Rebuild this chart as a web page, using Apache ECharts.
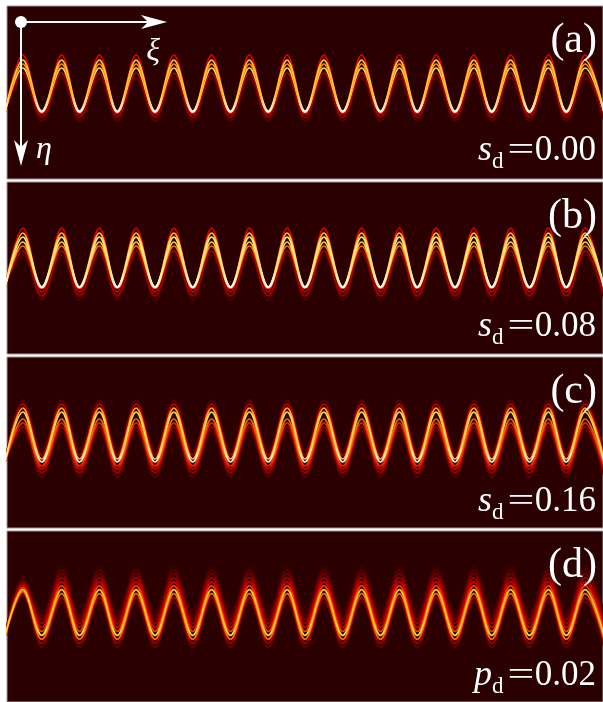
<!DOCTYPE html>
<html><head><meta charset="utf-8">
<script src="https://cdn.jsdelivr.net/npm/echarts@6/dist/echarts.min.js"></script>
<style>html,body{margin:0;padding:0;background:#fff}#c{width:603px;height:702px}</style>
</head><body><div id="c"></div>
<script>
// ξ positions (px units from the panel's left edge) of the start, then alternating peak / trough
const extremaXi = [-2, 16, 35, 55, 73, 93, 111, 130, 149, 168, 187, 206, 225, 244, 263, 282, 300,
                   319, 338, 357, 376, 395, 413, 432, 451, 470, 488, 507, 526, 545, 563, 582, 601];

// η (px units from panel top, downward) of each stacked beam copy, drawn dim -> bright
const startEta_a = 106;
const peakEta_a   = [72, 67, 49, 62, 58, 54];
const troughEta_a = [115, 111, 108, 106, 106, 105];

const startEta_b = 105;
const peakEta_b   = [73, 69, 46, 64, 51, 60, 55];
const troughEta_b = [118, 114, 110, 106, 105, 105, 105];

const startEta_c = 105;
const peakEta_c   = [43, 74, 70, 47, 66, 62, 51, 55];
const troughEta_c = [93, 120, 116, 98, 112, 109, 102, 105];

const startEta_d = 106;
const peakEta_d      = [35, 71, 39, 67, 43, 47, 63, 51, 55, 59];
const troughEta_d    = [81, 117, 85, 113, 89, 93, 109, 97, 101, 105];
const firstPeakEta_d = [47, 65, 49, 63, 51, 53, 61, 55, 57, 59];

const panelTags = ['(a)', '(b)', '(c)', '(d)'];
const paramSymbols = ['s', 's', 's', 'p'];
const paramValues = ['0.00', '0.08', '0.16', '0.02'];

// styles
const peakColors = [
  ['#5c0000', '#b00000', '#e00000', '#ffd860', '#ff8a10', '#ffc830'],
  ['#500000', '#a80000', '#dc0000', '#ff6a00', '#ffb820', '#ffd040', '#ffe890'],
  ['#5a0000', '#5a0000', '#a00000', '#c00000', '#e02800', '#ff6000', '#ffa820', '#ffd850'],
  ['#3c0000', '#600000', '#580000', '#a00000', '#7c0000', '#a80000', '#ff6800', '#d00000', '#ff3800', '#ffcc20']
];
const troughColors = [
  ['#600000', '#a00000', '#d01000', '#ffffff', '#ffffff', '#ffffff'],
  ['#500000', '#a00000', '#c80000', '#ffd0a0', '#ffffff', '#ffffff', '#ffffff'],
  ['#4a0000', '#5a0000', '#a00000', '#900000', '#d00000', '#e02000', '#ffb060', '#ffffff'],
  ['#3c0000', '#600000', '#580000', '#a00000', '#7c0000', '#a80000', '#ff7000', '#d80000', '#ff3c00', '#ffe860']
];

const panels = [
  {top: 6,   height: 173, start: startEta_a, peak: peakEta_a, trough: troughEta_a, first: null},
  {top: 182, height: 172, start: startEta_b, peak: peakEta_b, trough: troughEta_b, first: null},
  {top: 357, height: 171, start: startEta_c, peak: peakEta_c, trough: troughEta_c, first: null},
  {top: 531, height: 172, start: startEta_d, peak: peakEta_d, trough: troughEta_d, first: firstPeakEta_d}
];

const chart = echarts.init(document.getElementById('c'), null, {renderer: 'canvas'});
const grid = [], xAxis = [], yAxis = [], series = [], elements = [];
const SERIF = 'Liberation Serif';

function txt(x, y, text, size, italic, align, extra) {
  return Object.assign({type: 'text', x: x, y: y, z: 100,
    style: {text: text, fontFamily: SERIF, fontSize: size, fontStyle: italic ? 'italic' : 'normal',
      fill: '#fff', align: align, verticalAlign: 'middle'}}, extra || {});
}

panels.forEach((p, k) => {
  grid.push({left: 7, top: p.top, width: 600, height: p.height, show: true,
    backgroundColor: '#2a0000', borderColor: '#a89494', borderWidth: 1});
  xAxis.push({type: 'value', gridIndex: k, min: 0, max: 600, show: false});
  yAxis.push({type: 'value', gridIndex: k, min: 0, max: p.height, inverse: true, show: false});
  p.peak.forEach((_, j) => {
    const data = extremaXi.map((xi, i) => {
      let eta;
      if (i === 0) eta = p.start;
      else if (i % 2 === 1) eta = (i === 1 && p.first) ? p.first[j] : p.peak[j];
      else eta = p.trough[j];
      return [xi, eta];
    });
    series.push({
      type: 'line', xAxisIndex: k, yAxisIndex: k, data: data,
      smooth: 0.36, symbol: 'none', silent: true, clip: true,
      lineStyle: {width: 1.7, color: {type: 'linear', x: 0, y: 0, x2: 0, y2: 1, colorStops: [
        {offset: 0, color: peakColors[k][j]},
        {offset: 0.65, color: peakColors[k][j]},
        {offset: 1, color: troughColors[k][j]}]}}
    });
  });
  // labels
  const B = p.top + 157;
  elements.push(txt(597, p.top + 35, panelTags[k], 42, false, 'right'));
  elements.push(txt(492, B - 12, paramSymbols[k], 36, true, 'right'));
  elements.push(txt(492, B - 1, 'd', 23, false, 'left'));
  elements.push(txt(521, B - 12, '=', 34, false, 'center', {scaleX: 1.4}));
  elements.push(txt(596, B - 12, paramValues[k], 35, false, 'right'));
});

// coordinate arrows in panel (a)
elements.push(
  {type: 'line', z: 100, shape: {x1: 21, y1: 22, x2: 152, y2: 22}, style: {stroke: '#fff', lineWidth: 2}},
  {type: 'polygon', z: 100, shape: {points: [[167, 22], [141, 15], [148, 22], [141, 29]]}, style: {fill: '#fff'}},
  {type: 'line', z: 100, shape: {x1: 21, y1: 22, x2: 21, y2: 152}, style: {stroke: '#fff', lineWidth: 2}},
  {type: 'polygon', z: 100, shape: {points: [[21, 166], [14, 140], [21, 147], [28, 140]]}, style: {fill: '#fff'}},
  {type: 'circle', z: 101, shape: {cx: 21, cy: 22, r: 6}, style: {fill: '#fff'}},
  txt(153, 52, 'ξ', 32, true, 'center'),
  txt(44, 150, 'η', 32, true, 'center')
);

chart.setOption({
  animation: false,
  backgroundColor: '#ffffff',
  grid: grid, xAxis: xAxis, yAxis: yAxis, series: series,
  graphic: {elements: elements}
});
</script>
</body></html>
